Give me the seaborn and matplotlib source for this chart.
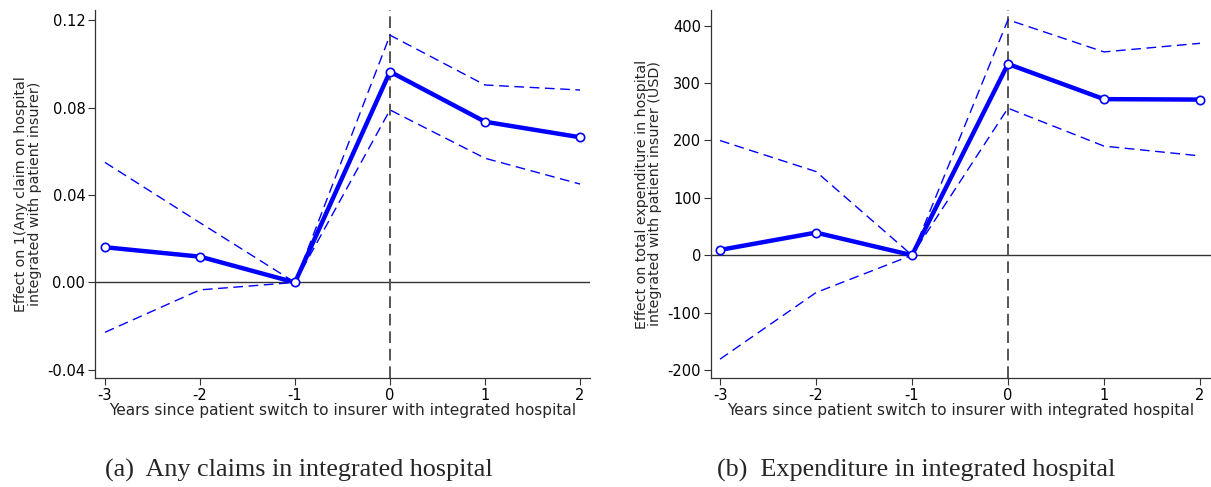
import numpy as np
import pandas as pd
import matplotlib
matplotlib.use("Agg")
import matplotlib.pyplot as plt
import seaborn as sns

years = [-3, -2, -1, 0, 1, 2]

claim_est = [0.0161, 0.0118, 0.0, 0.0964, 0.0735, 0.0664]
claim_hi = [0.0549, 0.0273, 0.0, 0.1131, 0.0903, 0.0880]
claim_lo = [-0.0228, -0.0034, 0.0, 0.0789, 0.0568, 0.0450]

exp_est = [9.2, 39.4, 0.0, 333.0, 271.8, 271.0]
exp_hi = [199.7, 145.7, 0.0, 410.0, 354.0, 369.0]
exp_lo = [-181.0, -65.1, 0.0, 256.0, 190.0, 173.0]

left_yticks = [-0.04, 0.00, 0.04, 0.08, 0.12]
left_yticklabels = ["-0.04", "0.00", "0.04", "0.08", "0.12"]
right_yticks = [-200, -100, 0, 100, 200, 300, 400]

xlabel = "Years since patient switch to insurer with integrated hospital"
ylabel_a = "Effect on 1(Any claim on hospital\nintegrated with patient insurer)"
ylabel_b = "Effect on total expenditure in hospital\nintegrated with patient insurer (USD)"
caption_a = "(a)  Any claims in integrated hospital"
caption_b = "(b)  Expenditure in integrated hospital"

sns.set_style("ticks")
plt.rcParams['font.family'] = ['DejaVu Sans']

W, H = 1211, 487
fig = plt.figure(figsize=(W / 100, H / 100), dpi=100)
ax1 = fig.add_axes([95 / W, 1 - 378 / H, (590 - 95) / W, (378 - 10) / H])
ax2 = fig.add_axes([710.7 / W, 1 - 378 / H, (1211 - 710.7) / W, (378 - 10) / H])

BLUE = "#0000ff"

def draw(ax, est, hi, lo, xlim, ylim, yticks, yticklabels, ylabel):
    df = pd.DataFrame({"year": years, "est": est, "hi": hi, "lo": lo})
    ax.axhline(0, color="#333333", lw=1.0, zorder=1)
    ax.axvline(0, color="#555555", lw=1.4, ls=(0, (6, 3)), zorder=1)
    sns.lineplot(data=df, x="year", y="hi", ax=ax, color=BLUE, lw=1.0,
                 linestyle=(0, (7, 4)), zorder=2)
    sns.lineplot(data=df, x="year", y="lo", ax=ax, color=BLUE, lw=1.0,
                 linestyle=(0, (7, 4)), zorder=2)
    sns.lineplot(data=df, x="year", y="est", ax=ax, color=BLUE, lw=3.2,
                 marker="o", markersize=6, markerfacecolor="white",
                 markeredgecolor=BLUE, markeredgewidth=1.2, zorder=3)
    ax.set_xlim(*xlim)
    ax.set_ylim(*ylim)
    ax.set_xticks(years)
    ax.set_xticklabels([str(y) for y in years])
    ax.set_yticks(yticks)
    ax.set_yticklabels(yticklabels)
    ax.set_xlabel(xlabel, fontsize=11.1, labelpad=0)
    ax.set_ylabel(ylabel, fontsize=10.3, labelpad=4, linespacing=0.92)
    ax.tick_params(axis="both", labelsize=10.5, length=5, width=0.8,
                   colors="#333333", labelcolor="black", direction="out", pad=2)
    for s in ["top", "right"]:
        ax.spines[s].set_visible(False)
    for s in ["left", "bottom"]:
        ax.spines[s].set_color("#333333")
        ax.spines[s].set_linewidth(0.9)

draw(ax1, claim_est, claim_hi, claim_lo, (-3.105, 2.105), (-0.0437, 0.1246),
     left_yticks, left_yticklabels, ylabel_a)
draw(ax2, exp_est, exp_hi, exp_lo, (-3.097, 2.115), (-213.8, 427.0),
     right_yticks, [str(v) for v in right_yticks], ylabel_b)

fig.text(105 / W, 1 - 470 / H, caption_a, fontsize=18.8, family="Liberation Serif",
         ha="left", va="center")
fig.text(717 / W, 1 - 470 / H, caption_b, fontsize=18.8, family="Liberation Serif",
         ha="left", va="center")

fig.savefig("out.png", dpi=100)
